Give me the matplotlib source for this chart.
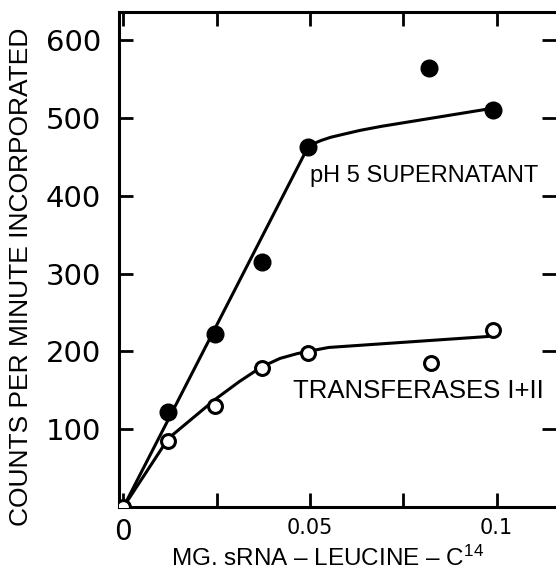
import matplotlib
matplotlib.use("Agg")
import matplotlib.pyplot as plt

plt.rcParams['font.family'] = ['Liberation Sans', 'DejaVu Sans']
plt.rcParams['mathtext.fontset'] = 'custom'
plt.rcParams['mathtext.rm'] = 'Liberation Sans'
plt.rcParams['mathtext.default'] = 'regular'

# measured points
ph5_x = [0.012, 0.0245, 0.037, 0.0495, 0.082, 0.099]
ph5_y = [122, 222, 315, 463, 564, 510]
trans_x = [0.0, 0.012, 0.0245, 0.037, 0.0495, 0.0825, 0.099]
trans_y = [0, 85, 130, 179, 198, 185, 228]

# hand-drawn curves through the points
ph5_curve_x = [0.0, 0.0495, 0.051, 0.053, 0.0555, 0.059, 0.0635, 0.069, 0.0985]
ph5_curve_y = [0, 463, 467, 471, 475, 479, 484, 489, 512]
trans_curve_x = [0.0, 0.012, 0.0245, 0.031, 0.037, 0.042, 0.0465, 0.0495, 0.055, 0.0975]
trans_curve_y = [0, 88, 138, 161, 180, 191, 197, 200, 205, 219]

xticks = [0, 0.05, 0.1]
xtick_labels = ['0', '0.05', '0.1']
yticks = [100, 200, 300, 400, 500, 600]

fig = plt.figure(figsize=(5.56, 5.71), dpi=100)
ax = fig.add_axes([119/556, 1 - 507/571, 437/556, 495/571])

ax.plot(ph5_curve_x, ph5_curve_y, color='black', lw=2.2, zorder=2)
ax.plot(trans_curve_x, trans_curve_y, color='black', lw=2.2, zorder=2)
ax.plot(ph5_x, ph5_y, 'o', color='black', ms=12, zorder=3)
ax.plot(trans_x, trans_y, 'o', mfc='white', mec='black', mew=2.2, ms=10, zorder=3)

ax.set_xlim(-0.0012, 0.1159)
ax.set_ylim(0, 636)

ax.set_xticks(xticks)
ax.set_xticklabels(xtick_labels)
ax.set_xticks([0.025, 0.075], minor=True)
ax.set_yticks(yticks)

ax.tick_params(axis='both', which='both', direction='in', width=2, length=10,
               top=True, right=True, color='black')
ax.tick_params(axis='y', labelsize=21, pad=13)
ax.tick_params(axis='x', labelsize=15, pad=8)
ax.get_xticklabels()[0].set_fontsize(20)
for lab in ax.get_yticklabels() + ax.get_xticklabels():
    lab.set_family('DejaVu Sans')

for side in ['left', 'bottom', 'top']:
    ax.spines[side].set_linewidth(2.2)
ax.spines['right'].set_visible(False)

ax.text(0.05, 418, 'pH 5 SUPERNATANT', fontsize=17, ha='left', va='baseline')
ax.text(0.0454, 140, 'TRANSFERASES I+II', fontsize=18.5, ha='left', va='baseline')

fig.text(21/556, 1 - 277/571, 'COUNTS PER MINUTE INCORPORATED', rotation=90,
         ha='center', va='center', fontsize=19)
fig.text(328/556, 1 - 566/571, r'MG. sRNA – LEUCINE – C$^{14}$',
         ha='center', va='baseline', fontsize=17.5)

fig.savefig('out.png', dpi=100)
